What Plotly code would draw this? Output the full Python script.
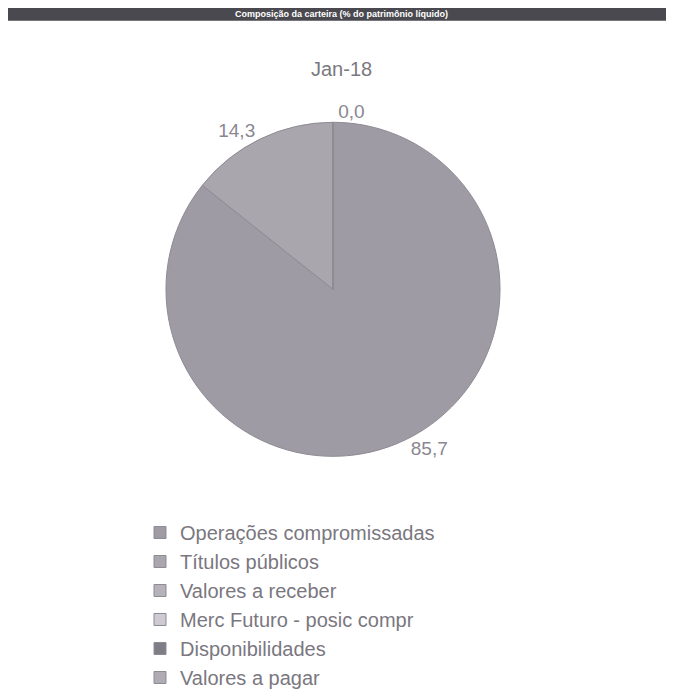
import plotly.graph_objects as go

categories = ["Operações compromissadas", "Títulos públicos", "Valores a receber",
              "Merc Futuro - posic compr", "Disponibilidades", "Valores a pagar"]
values = [85.7, 14.3, 0.0, 0.0, 0.0, 0.0]
period = "Jan-18"
header = "Composição da carteira (% do patrimônio líquido)"

colors = ["#9e9ba4", "#a9a6ae", "#b5b2ba", "#cdcad1", "#7f7c85", "#afacb4"]
# only one of the coincident zero labels is drawn
text_tpl = ["%{value:.1f}", "%{value:.1f}", "%{value:.1f}", "", "", ""]

W, H = 674, 689
cx, cy, r = 325, 288, 171

fig = go.Figure(go.Pie(
    labels=categories,
    values=values,
    sort=False,
    direction="clockwise",
    rotation=0,
    marker=dict(colors=colors, line=dict(color="#8e8b94", width=1)),
    texttemplate=text_tpl,
    textposition="outside",
    textfont=dict(family="Liberation Sans, Arial", size=19, color="#8a8790"),
    domain=dict(x=[(cx - r) / W, (cx + r) / W], y=[1 - (cy + r) / H, 1 - (cy - r) / H]),
    hoverinfo="label+value",
))

fig.update_layout(
    width=W, height=H,
    margin=dict(l=0, r=0, t=0, b=0),
    paper_bgcolor="white",
    plot_bgcolor="white",
    separators=", ",
    showlegend=True,
    legend=dict(
        x=132 / W, y=1 - 517 / H, xanchor="left", yanchor="top",
        font=dict(family="Liberation Sans, Arial", size=20, color="#7a777f"),
        bgcolor="rgba(0,0,0,0)",
    ),
    shapes=[dict(type="rect", xref="paper", yref="paper",
                 x0=0, x1=664 / W, y0=1 - 13 / H, y1=1,
                 fillcolor="#4a494f", line=dict(width=0), layer="below")],
    annotations=[
        dict(text=period, x=333 / W, y=1 - 62 / H, xref="paper", yref="paper",
             showarrow=False, xanchor="center", yanchor="middle",
             font=dict(family="Liberation Sans, Arial", size=20, color="#7b7880")),
        dict(text="<b>" + header + "</b>", x=333 / W, y=1 - 6.5 / H, xref="paper", yref="paper",
             showarrow=False, xanchor="center", yanchor="middle",
             font=dict(family="Liberation Sans, Arial", size=9, color="white")),
    ],
)

fig.write_html("out.html")
